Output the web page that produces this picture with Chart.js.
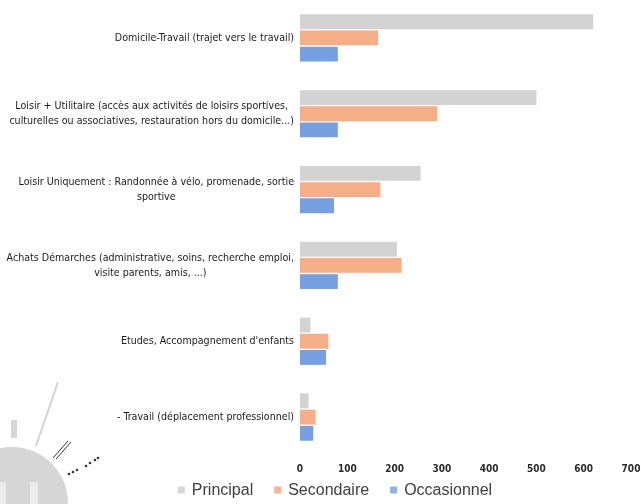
<!DOCTYPE html>
<html>
<head>
<meta charset="utf-8">
<script src="https://cdn.jsdelivr.net/npm/chart.js@4.4.1/dist/chart.umd.min.js"></script>
<style>
  html, body { margin: 0; padding: 0; background: #fff; }
  #graf { display: block; }
</style>
</head>
<body>
<canvas id="graf" width="641" height="504"></canvas>
<script>
// Données
const motifs = [
  ['Domicile-Travail (trajet vers le travail)'],
  ['Loisir + Utilitaire (accès aux activités de loisirs sportives,', 'culturelles ou associatives, restauration hors du domicile...)'],
  ['Loisir Uniquement : Randonnée à vélo, promenade, sortie', 'sportive'],
  ['Achats Démarches (administrative, soins, recherche emploi,', 'visite parents, amis, ...)'],
  ['Etudes, Accompagnement d\'enfants'],
  ['- Travail (déplacement professionnel)']
];
const series = ['Principal', 'Secondaire', 'Occasionnel'];
const principal   = [620, 500, 255, 205, 22, 18];
const secondaire  = [165, 290, 170, 215, 60, 33];
const occasionnel = [80, 80, 72, 80, 55, 28];
const ticksX = [0, 100, 200, 300, 400, 500, 600, 700];

const couleurs = ['#d3d3d3', '#f5ae86', '#77a0e2'];
const couleursLegende = ['#d8d8d8', '#f6b48f', '#8fb2ea'];
const policeLabels = '"Liberation Sans Narrow", "DejaVu Sans Condensed", "Liberation Sans", sans-serif';

// Étiquettes de l'axe Y : lignes centrées entre elles, bloc aligné à droite
const etiquettesY = {
  id: 'etiquettesY',
  afterDraw(chart) {
    const ctx = chart.ctx;
    const y = chart.scales.y;
    const droite = y.right - 6;
    ctx.save();
    ctx.font = '10.6px ' + policeLabels;
    ctx.fillStyle = '#1a1a1a';
    ctx.textBaseline = 'middle';
    ctx.textAlign = 'center';
    motifs.forEach((lignes, i) => {
      const py = y.getPixelForTick(i);
      const larg = Math.max(...lignes.map(l => ctx.measureText(l).width));
      const centre = droite - larg / 2;
      const h = 15;
      lignes.forEach((l, k) => {
        ctx.fillText(l, centre, py + (k - (lignes.length - 1) / 2) * h);
      });
    });
    ctx.restore();
  }
};

// Légende dessinée en bas
const legende = {
  id: 'legende',
  afterDraw(chart) {
    const ctx = chart.ctx;
    ctx.save();
    ctx.font = '16px "Liberation Sans", "Open Sans", sans-serif';
    ctx.textBaseline = 'middle';
    ctx.textAlign = 'left';
    const carre = 7, ecart = 7, espace = 21;
    const largeurs = series.map(s => ctx.measureText(s).width);
    const total = largeurs.reduce((a, b) => a + b, 0) + series.length * (carre + ecart) + (series.length - 1) * espace;
    let x = 335 - total / 2;
    const y = 490;
    series.forEach((s, i) => {
      ctx.fillStyle = couleursLegende[i];
      ctx.fillRect(x, y - carre / 2, carre, carre);
      x += carre + ecart;
      ctx.fillStyle = '#404040';
      ctx.fillText(s, x, y + 1);
      x += largeurs[i] + espace;
    });
    ctx.restore();
  }
};

// Filigrane en bas à gauche
const filigrane = {
  id: 'filigrane',
  beforeDraw(chart) {
    const ctx = chart.ctx;
    ctx.save();
    ctx.strokeStyle = '#d4d4d4';
    ctx.lineWidth = 2;
    ctx.beginPath();
    ctx.moveTo(58, 382);
    ctx.lineTo(36, 446);
    ctx.stroke();
    ctx.fillStyle = '#d6d6d6';
    ctx.fillRect(11, 420, 6, 18);
    ctx.beginPath();
    ctx.arc(12, 503, 56, 0, Math.PI * 2);
    ctx.fill();
    ctx.fillStyle = '#ececec';
    ctx.fillRect(0, 482, 6, 22);
    ctx.fillRect(30, 482, 8, 22);
    ctx.strokeStyle = '#333';
    ctx.lineWidth = 1;
    ctx.beginPath();
    ctx.moveTo(53, 458); ctx.lineTo(68, 441);
    ctx.moveTo(56, 459); ctx.lineTo(71, 442);
    ctx.stroke();
    ctx.fillStyle = '#333';
    [[69, 474], [73, 472], [77, 470], [86, 466], [90, 463], [95, 460], [98, 458]].forEach(p => {
      ctx.beginPath();
      ctx.arc(p[0], p[1], 1.3, 0, Math.PI * 2);
      ctx.fill();
    });
    ctx.restore();
  }
};

const ctx = document.getElementById('graf');
new Chart(ctx, {
  type: 'bar',
  data: {
    labels: motifs,
    datasets: [
      { label: series[0], data: principal, backgroundColor: couleurs[0] },
      { label: series[1], data: secondaire, backgroundColor: couleurs[1] },
      { label: series[2], data: occasionnel, backgroundColor: couleurs[2] }
    ]
  },
  options: {
    indexAxis: 'y',
    responsive: false,
    animation: false,
    devicePixelRatio: 1,
    categoryPercentage: 0.64,
    barPercentage: 0.92,
    layout: { padding: { left: 30, right: 0, top: 0, bottom: 29 } },
    scales: {
      x: {
        min: 0,
        max: 700,
        afterBuildTicks: s => { s.ticks = ticksX.map(v => ({ value: v })); },
        afterFit: s => { s.paddingRight = 10; s.paddingLeft = 0; },
        grid: { display: false },
        border: { display: false },
        ticks: {
          color: '#2a2a2a',
          font: { family: policeLabels, size: 10, weight: 'bold' },
          padding: 0
        }
      },
      y: {
        grid: { display: false },
        border: { display: false },
        ticks: { display: false },
        afterFit: s => { s.width = 270; }
      }
    },
    plugins: {
      legend: { display: false },
      tooltip: { enabled: false }
    }
  },
  plugins: [filigrane, etiquettesY, legende]
});
</script>
</body>
</html>
